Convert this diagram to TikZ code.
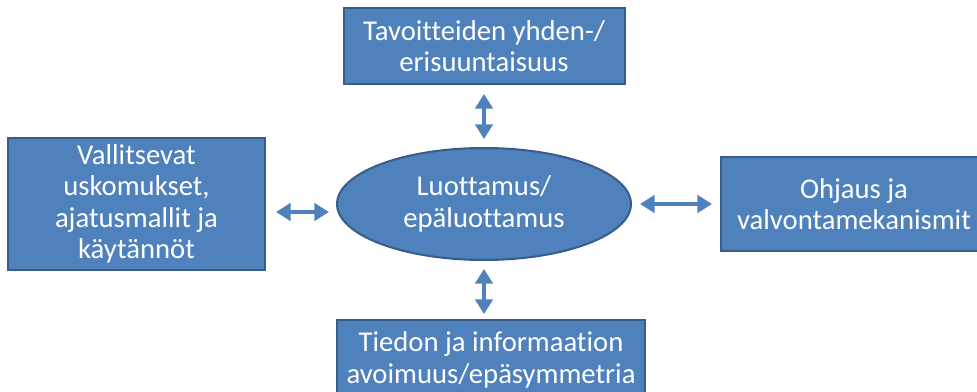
\documentclass[tikz,border=0pt]{standalone}
\usepackage{fontspec}
\setmainfont{Carlito}[Ligatures=NoCommon]
\usetikzlibrary{positioning, arrows.meta, shapes.geometric}
\definecolor{boxblue}{HTML}{4F81BD}
\definecolor{boxedge}{HTML}{385D8A}
\tikzset{
    box/.style={draw=boxedge, fill=boxblue, line width=1.5pt, text=white,
        align=center, inner sep=0pt, font=\fontsize{21.5}{23.5}\selectfont},
    ellip/.style={box, ellipse},
    dblarrow/.style={draw=boxblue, line width=3.5pt,
        {Triangle[length=11pt, width=13pt]}-{Triangle[length=11pt, width=13pt]}},
}

\begin{document}
\begin{tikzpicture}[x=0.75pt, y=-0.75pt]
    \useasboundingbox (0,0) rectangle (977,392);

    \node[ellip, minimum width=220.5pt, minimum height=84pt] (trust) at (484,204) {Luottamus/\\ep\"aluottamus};

    \node[box, minimum width=210.75pt, minimum height=57pt, above=46.5pt of trust] (goals) {Tavoitteiden yhden-/\\erisuuntaisuus};
    \node[box, minimum width=192.75pt, minimum height=98.25pt, left=52.5pt of trust] (practices) {Vallitsevat\\uskomukset,\\ajatusmallit ja\\k\"ayt\"ann\"ot};
    \node[box, minimum width=199.5pt, minimum height=69.75pt, right=66pt of trust] (control) {Ohjaus ja\\valvontamekanismit};
    \node[box, minimum width=231pt, minimum height=60pt, below=43.5pt of trust, xshift=5.25pt] (info) {Tiedon ja informaation\\avoimuus/ep\"asymmetria};

    % connectors
    \draw[dblarrow, shorten <=6.75pt, shorten >=6pt] (goals) -- (trust);
    \draw[dblarrow, shorten <=7.5pt, shorten >=5.25pt] ([yshift=-6pt]practices.east) -- ([yshift=-6pt]trust.west);
    \draw[dblarrow, shorten <=6pt, shorten >=6pt] (trust) -- (control);
    \draw[dblarrow, shorten <=6pt, shorten >=3.75pt] (trust.south) -- (trust.south |- info.north);
\end{tikzpicture}
\end{document}
